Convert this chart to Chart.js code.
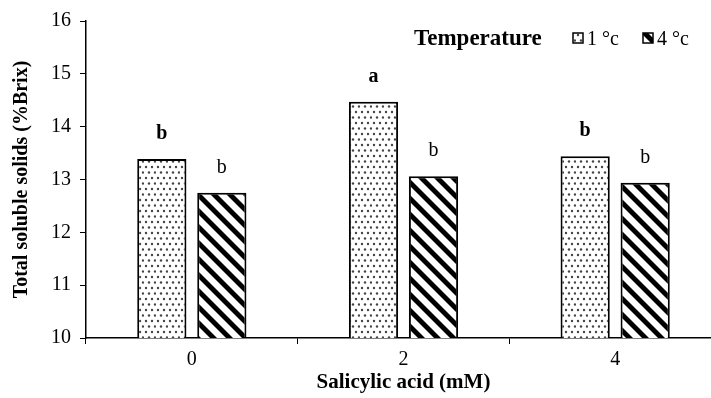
<!DOCTYPE html>
<html>
<head>
<meta charset="utf-8">
<script src="https://cdn.jsdelivr.net/npm/chart.js@4/dist/chart.umd.min.js"></script>
<style>
  html, body { margin: 0; padding: 0; background: #fff; overflow: hidden; }
  #wrap { width: 721px; height: 398px; }
</style>
</head>
<body>
<div id="wrap"><canvas id="chart" width="721" height="398"></canvas></div>
<script>
// ========================================
// DATA
// ========================================

const categories = ['0', '2', '4'];
const seriesLabels = ['1 °c', '4 °c'];
const temp1Values = [13.39, 14.47, 13.44];
const temp4Values = [12.75, 13.06, 12.94];
const temp1Letters = ['b', 'a', 'b'];
const temp4Letters = ['b', 'b', 'b'];
const yTicks = [10, 11, 12, 13, 14, 15, 16];

const SERIF = "'Liberation Serif', 'Times New Roman', serif";

// ========================================
// PATTERNS
// ========================================

function dotPattern() {
    const c = document.createElement('canvas');
    c.width = 12; c.height = 11;
    const g = c.getContext('2d');
    g.fillStyle = '#fff';
    g.fillRect(0, 0, 12, 11);
    g.fillStyle = '#444';
    [[2, 2], [8, 2], [5, 7.5], [11, 7.5]].forEach(([x, y]) => {
        g.beginPath();
        g.arc(x, y, 1.2, 0, Math.PI * 2);
        g.fill();
    });
    return g.createPattern(c, 'repeat');
}

// diagonal "\" stripes, drawn pixel by pixel so the tile wraps cleanly
function hatchPattern() {
    const s = 16;
    const w = 7;
    const c = document.createElement('canvas');
    c.width = s; c.height = s;
    const g = c.getContext('2d');
    const img = g.createImageData(s, s);
    for (let y = 0; y < s; y++) {
        for (let x = 0; x < s; x++) {
            const d = ((x - y) % s + s) % s;
            // soft edge of one pixel
            let cov = 0;
            if (d >= 1 && d <= w - 1) cov = 1;
            else if (d === 0 || d === w) cov = 0.5;
            const v = Math.round(255 * (1 - cov));
            const k = (y * s + x) * 4;
            img.data[k] = v;
            img.data[k + 1] = v;
            img.data[k + 2] = v;
            img.data[k + 3] = 255;
        }
    }
    g.putImageData(img, 0, 0);
    return g.createPattern(c, 'repeat');
}

const dots = dotPattern();
const hatch = hatchPattern();

// ========================================
// PLUGINS
// ========================================

// letters above the bars
const letterPlugin = {
    id: 'letters',
    afterDatasetsDraw(chart) {
        const ctx = chart.ctx;
        const sets = [
            { letters: temp1Letters, bold: true },
            { letters: temp4Letters, bold: false }
        ];
        ctx.save();
        ctx.fillStyle = '#000';
        ctx.textAlign = 'center';
        ctx.textBaseline = 'alphabetic';
        sets.forEach((s, di) => {
            const meta = chart.getDatasetMeta(di);
            ctx.font = (s.bold ? 'bold ' : '') + '20px ' + SERIF;
            meta.data.forEach((bar, i) => {
                ctx.fillText(s.letters[i], bar.x, bar.y - 20);
            });
        });
        ctx.restore();
    }
};

// inline legend: "Temperature  [] 1 °c  [] 4 °c"
const legendPlugin = {
    id: 'inlineLegend',
    afterDraw(chart) {
        const ctx = chart.ctx;
        const base = 45;
        const boxX = [573, 643];
        ctx.save();
        ctx.fillStyle = '#000';
        ctx.textBaseline = 'alphabetic';
        ctx.font = 'bold 23px ' + SERIF;
        ctx.fillText('Temperature', 414, base);

        chart.data.datasets.forEach((ds, i) => {
            const x = boxX[i];
            ctx.fillStyle = ds.backgroundColor;
            ctx.fillRect(x, base - 12, 10, 10);
            ctx.strokeStyle = '#000';
            ctx.lineWidth = 1.5;
            ctx.strokeRect(x, base - 12, 10, 10);
            ctx.fillStyle = '#000';
            ctx.font = '20px ' + SERIF;
            ctx.fillText(ds.label, x + 14, base);
        });
        ctx.restore();
    }
};

// ========================================
// CHART
// ========================================

new Chart(document.getElementById('chart'), {
    type: 'bar',
    data: {
        labels: categories,
        datasets: [
            {
                label: seriesLabels[0],
                data: temp1Values,
                backgroundColor: dots,
                borderColor: '#000',
                borderWidth: 2
            },
            {
                label: seriesLabels[1],
                data: temp4Values,
                backgroundColor: hatch,
                borderColor: '#000',
                borderWidth: 2
            }
        ]
    },
    options: {
        responsive: false,
        animation: false,
        categoryPercentage: 0.567,
        barPercentage: 0.82,
        layout: { padding: { top: 18, left: 0, right: 0, bottom: 0 } },
        plugins: {
            legend: { display: false },
            tooltip: { enabled: false }
        },
        scales: {
            x: {
                grid: {
                    display: true,
                    drawOnChartArea: false,
                    drawTicks: true,
                    tickLength: 6,
                    color: '#000',
                    offset: true
                },
                border: { display: true, color: '#000', width: 1.5 },
                ticks: {
                    color: '#000',
                    padding: 4,
                    font: { family: SERIF, size: 20 }
                },
                title: {
                    display: true,
                    text: 'Salicylic acid (mM)',
                    color: '#000',
                    padding: { top: 0, bottom: 3 },
                    font: { family: SERIF, size: 21, weight: 'bold' }
                },
                afterFit(scale) { scale.height = 60; }
            },
            y: {
                min: 10,
                max: 16,
                afterBuildTicks(scale) {
                    scale.ticks = yTicks.map(v => ({ value: v }));
                },
                grid: {
                    display: true,
                    drawOnChartArea: false,
                    drawTicks: true,
                    tickLength: 6,
                    color: '#000'
                },
                border: { display: true, color: '#000', width: 1.5 },
                ticks: {
                    color: '#000',
                    padding: 9,
                    font: { family: SERIF, size: 20 }
                },
                title: {
                    display: true,
                    text: 'Total soluble solids (%Brix)',
                    color: '#000',
                    padding: { top: 10, bottom: 0 },
                    font: { family: SERIF, size: 20, weight: 'bold' }
                },
                afterFit(scale) { scale.width = 86; }
            }
        }
    },
    plugins: [letterPlugin, legendPlugin]
});
</script>
</body>
</html>
